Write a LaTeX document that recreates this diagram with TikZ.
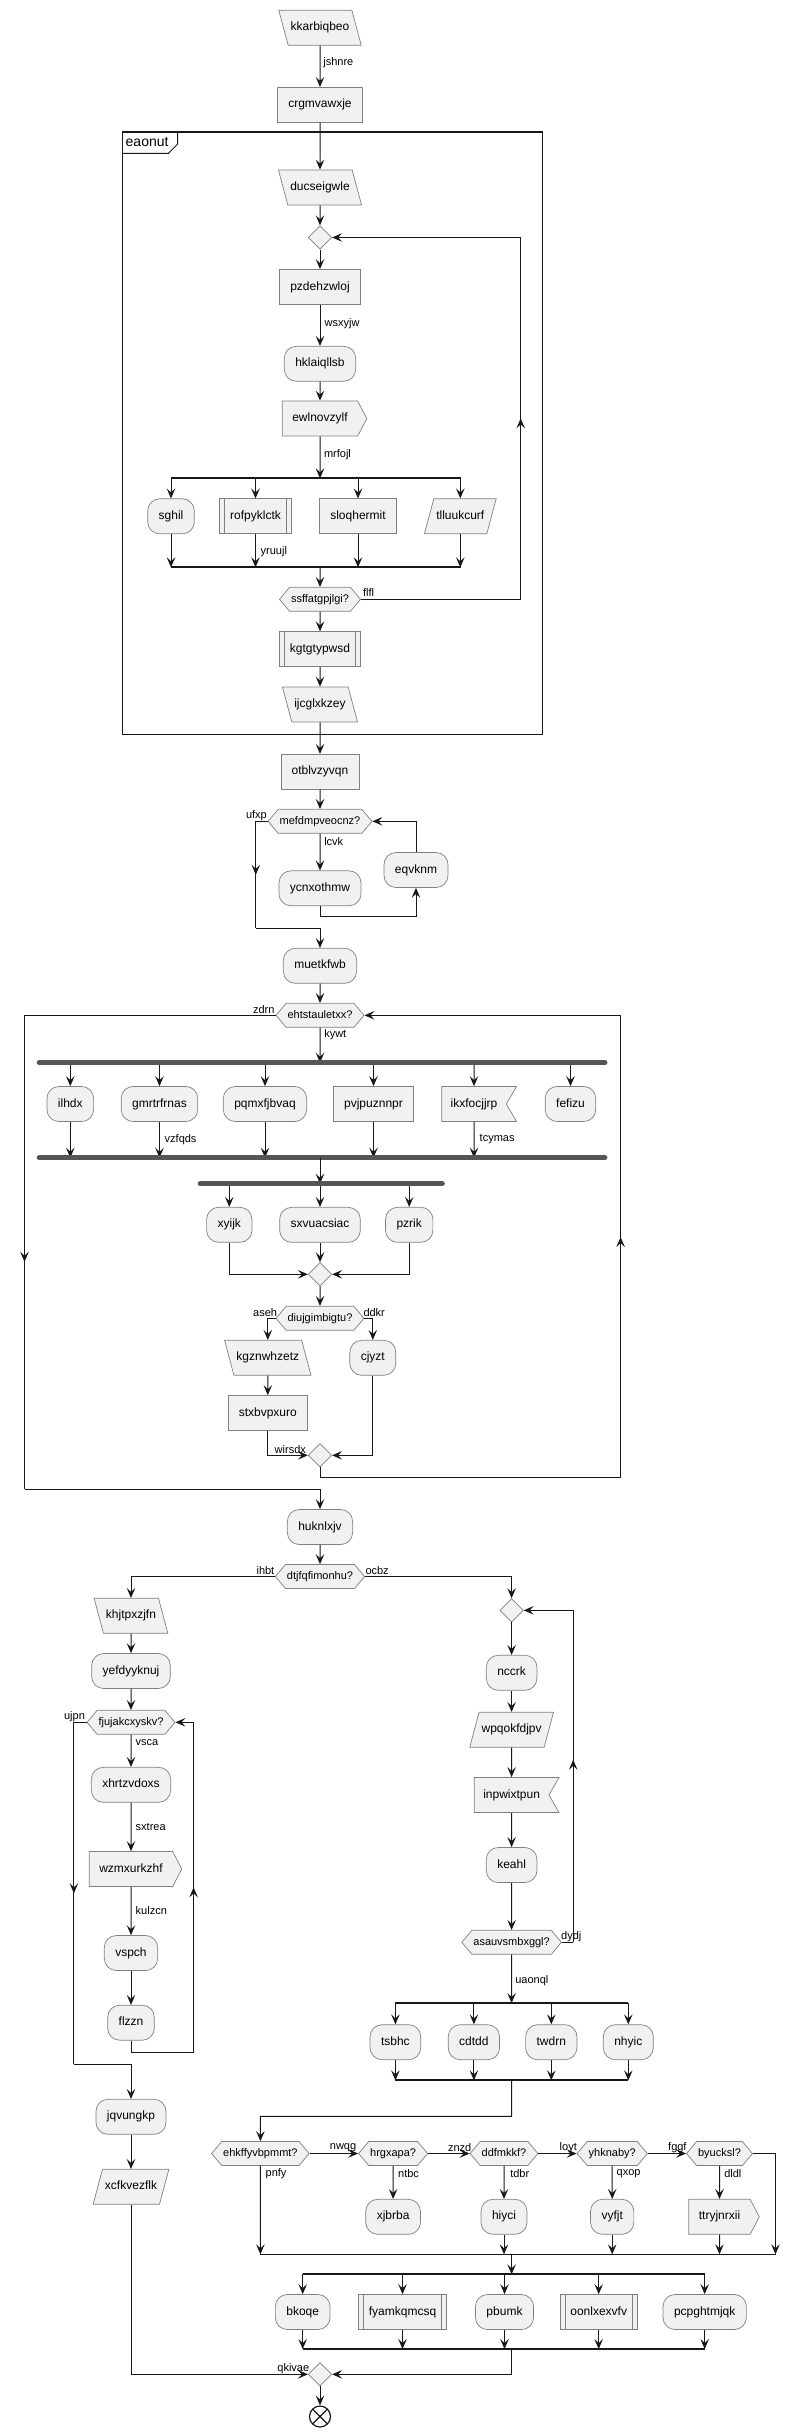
\documentclass[tikz,border=0pt]{standalone}
\usepackage{fontspec}
\setmainfont{Liberation Sans}
\usetikzlibrary{arrows.meta,shapes.geometric,shapes.symbols,decorations.markings,calc}

\definecolor{boxfill}{HTML}{F1F1F1}
\definecolor{ink}{HTML}{181818}
\definecolor{bordc}{HTML}{808080}
\definecolor{barc}{HTML}{555555}

\tikzset{
  box/.style={draw=bordc, line width=0.7pt, fill=boxfill, font=\fontsize{12}{14}\selectfont, text height=9pt, text depth=3pt, inner ysep=11.5pt},
  act/.style={box, rectangle, inner xsep=10.5pt},
  rnd/.style={box, rectangle, rounded corners=12pt, inner xsep=11pt},
  sub/.style={act, path picture={\draw[bordc, line width=0.7pt] ([xshift=5pt]path picture bounding box.north west) -- ([xshift=5pt]path picture bounding box.south west) ([xshift=-5pt]path picture bounding box.north east) -- ([xshift=-5pt]path picture bounding box.south east);}},
  inbox/.style={box, trapezium, trapezium left angle=105, trapezium right angle=75, inner xsep=2.5pt},
  outbox/.style={box, trapezium, trapezium left angle=75, trapezium right angle=105, inner xsep=2.5pt},
  send/.style={box, signal, signal to=east, signal pointer angle=125, inner xsep=10pt},
  recv/.style={box, signal, signal to=nowhere, signal from=east, signal pointer angle=120, inner xsep=9pt},
  hex/.style={box, signal, signal to=east and west, signal pointer angle=100, font=\fontsize{11}{13}\selectfont, text height=8pt, text depth=2.5pt, inner ysep=6.75pt, inner xsep=1.5pt},
  merge/.style={draw=bordc, line width=0.7pt, fill=boxfill, diamond, minimum width=23.5pt, minimum height=23.5pt, inner sep=0pt},
  conn/.style={draw=ink, line width=1pt},
  flow/.style={conn, -{Stealth[length=10pt,width=8.5pt,inset=4pt]}},
  midtip/.style={conn, postaction=decorate, decoration={markings, mark=at position #1 with {\arrow[ink]{Stealth[length=10pt,width=8.5pt,inset=4pt]}}}},
  lbl/.style={font=\fontsize{11}{13}\selectfont, inner sep=0.5pt, anchor=west},
  lbll/.style={lbl, anchor=east},
  forkbar/.style={barc, line width=5.3pt, line cap=round},
  splitbar/.style={ink, line width=2pt},
}

\begin{document}
\begin{tikzpicture}[x=1pt, y=-1pt]
	\useasboundingbox (0,0) rectangle (799,2436);

	\draw[ink, line width=1.5pt] (122.7,132) rectangle (542.7,734.3);
	\draw[ink, line width=1pt] (122.7,153.3) -- (168.5,153.3) -- (177.7,144) -- (177.7,132);
	\node[font=\fontsize{14}{16}\selectfont, anchor=west, inner sep=0pt] (grp) at (125.5,142.5) {eaonut};

	\coordinate (s1l) at (171,478.3);
	\coordinate (s1r) at (461,478.3);
	\coordinate (j1l) at (171,567.3);
	\coordinate (j1r) at (461,567.3);
	\coordinate (f1l) at (39.3,1062.7);
	\coordinate (f1r) at (604.8,1062.7);
	\coordinate (j2l) at (39.3,1157.7);
	\coordinate (j2r) at (604.8,1157.7);
	\coordinate (f2l) at (200.3,1183.7);
	\coordinate (f2r) at (442.2,1183.7);
	\coordinate (s2l) at (395.4,2003);
	\coordinate (s2r) at (628.3,2003);
	\coordinate (j3l) at (395.4,2080.3);
	\coordinate (j3r) at (628.3,2080.3);
	\coordinate (ml) at (260.4,2254.3);
	\coordinate (mr) at (775.5,2254.3);
	\coordinate (s3l) at (302.7,2274.3);
	\coordinate (s3r) at (704.7,2274.3);
	\coordinate (j4l) at (302.7,2349);
	\coordinate (j4r) at (704.7,2349);

	\node[inbox] (kkar) at (320,27.7) {kkarbiqbeo};
	\node[act] (crg) at (320,104.8) {crgmvawxje};
	\node[inbox] (duc) at (320,187.5) {ducseigwle};
	\node[merge] (m1) at (320,237.5) {};
	\node[act] (pzd) at (320,287) {pzdehzwloj};
	\node[rnd] (hkl) at (320,363.8) {hklaiqllsb};
	\node[send] (ewl) at (320,418.5) {ewlnovzylf};
	\node[rnd] (sghi) at (171,516.3) {sghil};
	\node[sub] (rofp) at (255.5,516.3) {rofpyklctk};
	\node[act] (sloq) at (358,516.3) {sloqhermit};
	\node[outbox] (tllu) at (460.3,516.3) {tlluukcurf};
	\node[hex] (ssff) at (320,599.3) {ssffatgpjlgi?};
	\node[sub] (kgtg) at (320,649.2) {kgtgtypwsd};
	\node[inbox] (ijcg) at (320,704.5) {ijcglxkzey};
	\node[act] (otbl) at (320,771.8) {otblvzyvqn};
	\node[hex] (mef) at (320,821.3) {mefdmpveocnz?};
	\node[rnd] (ycnx) at (320,888.3) {ycnxothmw};
	\node[rnd] (eqvk) at (416,870) {eqvknm};
	\node[rnd] (muet) at (320,965.8) {muetkfwb};
	\node[hex] (eht) at (320,1015.3) {ehtstauletxx?};
	\node[rnd] (ilhd) at (70.3,1104) {ilhdx};
	\node[rnd] (gmrt) at (159.5,1104) {gmrtrfrnas};
	\node[rnd] (pqmx) at (265,1104) {pqmxfjbvaq};
	\node[act] (pvjp) at (373.5,1104) {pvjpuznnpr};
	\node[recv] (ikxf) at (474,1104) {ikxfocjjrp};
	\node[rnd] (fefi) at (570.5,1104) {fefizu};
	\node[rnd] (xyij) at (229.3,1224.8) {xyijk};
	\node[rnd] (sxvu) at (320,1224.8) {sxvuacsiac};
	\node[rnd] (pzri) at (409.2,1224.8) {pzrik};
	\node[merge] (m2) at (320,1274.3) {};
	\node[hex] (diuj) at (320,1318.3) {diujgimbigtu?};
	\node[inbox] (kgzn) at (267.8,1357.8) {kgznwhzetz};
	\node[rnd] (cjyz) at (372.8,1357.8) {cjyzt};
	\node[act] (stxb) at (267.8,1413) {stxbvpxuro};
	\node[merge] (m3) at (320,1455.3) {};
	\node[rnd] (hukn) at (320,1527) {huknlxjv};
	\node[hex] (dtjf) at (320,1576.5) {dtjfqfimonhu?};
	\node[inbox] (khjt) at (131,1615.8) {khjtpxzjfn};
	\node[merge] (m4) at (511.6,1610.3) {};
	\node[rnd] (yefd) at (131,1671) {yefdyyknuj};
	\node[hex] (fjuj) at (131,1722.3) {fjujakcxyskv?};
	\node[rnd] (xhrt) at (131,1784.8) {xhrtzvdoxs};
	\node[send] (wzmx) at (131,1869) {wzmxurkzhf};
	\node[rnd] (vspc) at (131,1953) {vspch};
	\node[rnd] (flzz) at (131,2022.7) {flzzn};
	\node[rnd] (jqvu) at (131,2116.8) {jqvungkp};
	\node[outbox] (xcfk) at (131,2186.8) {xcfkvezflk};
	\node[rnd] (nccr) at (511.6,1672.8) {nccrk};
	\node[outbox] (wpqo) at (511.6,1729.8) {wpqokfdjpv};
	\node[recv] (inpw) at (511.6,1795) {inpwixtpun};
	\node[rnd] (keah) at (511.6,1865) {keahl};
	\node[hex] (asau) at (511.6,1942.3) {asauvsmbxggl?};
	\node[rnd] (tsbh) at (395.4,2042.2) {tsbhc};
	\node[rnd] (cdtd) at (473.9,2042.2) {cdtdd};
	\node[rnd] (twdr) at (551.3,2042.2) {twdrn};
	\node[rnd] (nhyi) at (628.3,2042.2) {nhyic};
	\node[hex] (ehkf) at (260.4,2153.5) {ehkffyvbpmmt?};
	\node[hex] (hrgx) at (393.1,2153.5) {hrgxapa?};
	\node[hex] (ddfm) at (504,2153.5) {ddfmkkf?};
	\node[hex] (yhkn) at (612.2,2153.5) {yhknaby?};
	\node[hex] (byuc) at (719.5,2153.5) {byucksl?};
	\node[rnd] (xjbr) at (393.1,2216.8) {xjbrba};
	\node[rnd] (hiyc) at (504,2216.8) {hiyci};
	\node[rnd] (vyfj) at (612.2,2216.8) {vyfjt};
	\node[send] (ttry) at (719.5,2216.8) {ttryjnrxii};
	\node[rnd] (bkoq) at (302.7,2312) {bkoqe};
	\node[sub] (fyam) at (402.5,2312) {fyamkqmcsq};
	\node[rnd] (pbum) at (504.5,2312) {pbumk};
	\node[sub] (oonl) at (598.7,2312) {oonlxexvfv};
	\node[rnd] (pcpg) at (704.7,2312) {pcpghtmjqk};
	\node[merge] (m5) at (320,2374.3) {};
	\node[circle, draw=ink, line width=1.2pt, fill=white, minimum size=21pt, inner sep=0pt, path picture={\draw[ink, line width=1.2pt] (path picture bounding box.north west) -- (path picture bounding box.south east) (path picture bounding box.north east) -- (path picture bounding box.south west);}] (stop) at (320,2416.5) {};

	\draw[flow] (kkar) -- (crg);
	\draw[flow] (crg) -- (duc);
	\draw[flow] (duc) -- (m1);
	\draw[flow] (m1) -- (pzd);
	\draw[flow] (pzd) -- (hkl);
	\draw[flow] (hkl) -- (ewl);
	\draw[flow] (ewl) -- (ewl |- s1l);
	\foreach \n in {sghi,rofp,sloq,tllu}{
		\draw[flow] (s1l -| \n) -- (\n);
		\draw[flow] (\n) -- (j1l -| \n);
	}
	\draw[splitbar] (s1l) -- (s1r);
	\draw[splitbar] (j1l) -- (j1r);
	\draw[flow] (j1l -| ssff) -- (ssff);
	\draw[flow] (ssff) -- (kgtg);
	\draw[flow] (kgtg) -- (ijcg);
	\draw[flow] (ijcg) -- (otbl);
	\draw[flow] (otbl) -- (mef);
	\coordinate (r1) at (520.7,237.5);
	\draw[conn] (ssff.east) -- (ssff.east -| r1);
	\draw[midtip=0.5] (ssff.east -| r1) -- (r1);
	\draw[flow] (r1) -- (m1.east);

	\draw[flow] (mef) -- (ycnx);
	\coordinate (q1) at (416,916.3);
	\draw[flow] (ycnx) |- (q1) -- (eqvk);
	\draw[flow] (eqvk) |- (mef.east);
	\coordinate (u1) at (255.8,928.3);
	\draw[conn] (mef.west) -- (mef.west -| u1);
	\draw[midtip=0.5] (mef.west -| u1) -- (u1);
	\draw[flow] (u1) -| (muet);
	\draw[flow] (muet) -- (eht);

	\draw[flow] (eht) -- (eht |- f1l);
	\foreach \n in {ilhd,gmrt,pqmx,pvjp,ikxf,fefi}
		\draw[flow] (f1l -| \n) -- (\n);
	\foreach \n in {ilhd,gmrt,pqmx,pvjp,ikxf}
		\draw[flow] (\n) -- (j2l -| \n);
	\draw[forkbar] (f1l) -- (f1r);
	\draw[forkbar] (j2l) -- (j2r);
	\draw[flow] (eht |- j2l) -- (eht |- f2l);
	\foreach \n in {xyij,sxvu,pzri}
		\draw[flow] (f2l -| \n) -- (\n);
	\draw[forkbar] (f2l) -- (f2r);
	\draw[flow] (xyij) |- (m2);
	\draw[flow] (pzri) |- (m2);
	\draw[flow] (sxvu) -- (m2);
	\draw[flow] (m2) -- (diuj);
	\draw[flow] (diuj.west) -| (kgzn);
	\draw[flow] (diuj.east) -| (cjyz);
	\draw[flow] (kgzn) -- (stxb);
	\draw[flow] (stxb) |- (m3);
	\draw[flow] (cjyz) |- (m3);
	\coordinate (r2) at (620.6,1477.3);
	\draw[conn] (m3) -- (m3 |- r2) -- (r2);
	\draw[midtip=0.52] (r2) -- (r2 |- eht);
	\draw[flow] (r2 |- eht) -- (eht.east);
	\coordinate (u2) at (24.5,1489.3);
	\draw[conn] (eht.west) -- (eht.west -| u2);
	\draw[midtip=0.52] (eht.west -| u2) -- (u2);
	\draw[flow] (u2) -| (hukn);

	\draw[flow] (hukn) -- (dtjf);
	\draw[flow] (dtjf.west) -| (khjt);
	\draw[flow] (dtjf.east) -| (m4);
	\draw[flow] (khjt) -- (yefd);
	\draw[flow] (yefd) -- (fjuj);
	\draw[flow] (fjuj) -- (xhrt);
	\draw[flow] (xhrt) -- (wzmx);
	\draw[flow] (wzmx) -- (vspc);
	\draw[flow] (vspc) -- (flzz);
	\coordinate (r3) at (193.6,2052.3);
	\draw[conn] (flzz) |- (r3);
	\draw[midtip=0.5] (r3) -- (r3 |- fjuj);
	\draw[flow] (r3 |- fjuj) -- (fjuj.east);
	\coordinate (u3) at (73.9,2064.3);
	\draw[conn] (fjuj.west) -- (fjuj.west -| u3);
	\draw[midtip=0.5] (fjuj.west -| u3) -- (u3);
	\draw[flow] (u3) -| (jqvu);
	\draw[flow] (jqvu) -- (xcfk);
	\draw[flow] (xcfk) |- (m5);

	\draw[flow] (m4) -- (nccr);
	\draw[flow] (nccr) -- (wpqo);
	\draw[flow] (wpqo) -- (inpw);
	\draw[flow] (inpw) -- (keah);
	\draw[flow] (keah) -- (asau);
	\coordinate (r4) at (573.2,1610.3);
	\draw[conn] (asau.east) -- (asau.east -| r4);
	\draw[midtip=0.55] (asau.east -| r4) -- (r4);
	\draw[flow] (r4) -- (m4.east);
	\draw[flow] (asau) -- (asau |- s2l);
	\foreach \n in {tsbh,cdtd,twdr,nhyi}{
		\draw[flow] (s2l -| \n) -- (\n);
		\draw[flow] (\n) -- (j3l -| \n);
	}
	\draw[splitbar] (s2l) -- (s2r);
	\draw[splitbar] (j3l) -- (j3r);
	\coordinate (k1) at (260.4,2116.3);
	\draw[flow] (asau |- j3l) |- (k1) -- (ehkf);

	\draw[flow] (ehkf.east) -- (hrgx.west);
	\draw[flow] (hrgx.east) -- (ddfm.west);
	\draw[flow] (ddfm.east) -- (yhkn.west);
	\draw[flow] (yhkn.east) -- (byuc.west);
	\draw[flow] (hrgx) -- (xjbr);
	\draw[flow] (ddfm) -- (hiyc);
	\draw[flow] (yhkn) -- (vyfj);
	\draw[flow] (byuc) -- (ttry);
	\draw[conn] (ml) -- (mr);
	\draw[flow] (ehkf) -- (ml);
	\foreach \n in {hiyc,vyfj,ttry}
		\draw[flow] (\n) -- (ml -| \n);
	\draw[flow] (byuc.east) -| (mr);
	\draw[flow] (asau |- ml) -- (asau |- s3l);
	\foreach \n in {bkoq,fyam,pbum,oonl,pcpg}{
		\draw[flow] (s3l -| \n) -- (\n);
		\draw[flow] (\n) -- (j4l -| \n);
	}
	\draw[splitbar] (s3l) -- (s3r);
	\draw[splitbar] (j4l) -- (j4r);
	\draw[flow] (asau |- j4l) |- (m5);
	\draw[flow] (m5) -- (stop);

	\node[lbl] (tjsh) at (322.7,63) {jshnre};
	\node[lbl] (twsx) at (324,323.3) {wsxyjw};
	\node[lbl] (tmrf) at (323.3,455) {mrfojl};
	\node[lbl] (tyru) at (260,551.7) {yruujl};
	\node[lbl] (tflf) at (362.3,592.7) {flfl};
	\node[lbll] (tufx) at (267.5,815.7) {ufxp};
	\node[lbl] (tlcv) at (323.6,841.7) {lcvk};
	\node[lbll] (tzdr) at (275.2,1009.3) {zdrn};
	\node[lbl] (tkyw) at (323.6,1035) {kywt};
	\node[lbl] (tvzf) at (164,1139.3) {vzfqds};
	\node[lbl] (ttcy) at (479,1139.3) {tcymas};
	\node[lbll] (tase) at (277.7,1312.3) {aseh};
	\node[lbl] (tddk) at (362.8,1312.3) {ddkr};
	\node[lbl] (twir) at (274,1449.3) {wirsdx};
	\node[lbll] (tihb) at (275,1570.7) {ihbt};
	\node[lbl] (tocb) at (364.8,1570.7) {ocbz};
	\node[lbll] (tujp) at (85.6,1716.7) {ujpn};
	\node[lbl] (tvsc) at (135,1742.7) {vsca};
	\node[lbl] (tsxt) at (135,1827.3) {sxtrea};
	\node[lbl] (tkul) at (135,1911) {kulzcn};
	\node[lbl] (tdyd) at (560.5,1936.7) {dydj};
	\node[lbl] (tuao) at (514.6,1981) {uaonql};
	\node[lbl] (tnwq) at (329.2,2147.7) {nwqg};
	\node[lbl] (tznz) at (447.4,2147.7) {znzd};
	\node[lbl] (tloy) at (559,2147.7) {loyt};
	\node[lbl] (tfgg) at (667.5,2147.7) {fggf};
	\node[lbl] (tpnf) at (265,2173.7) {pnfy};
	\node[lbl] (tntb) at (397.5,2173.7) {ntbc};
	\node[lbl] (ttdb) at (509.6,2173.7) {tdbr};
	\node[lbl] (tqxo) at (616,2173.7) {qxop};
	\node[lbl] (tdld) at (723.6,2173.7) {dldl};
	\node[lbl] (tqki) at (276.7,2368.3) {qkivae};
\end{tikzpicture}
\end{document}
